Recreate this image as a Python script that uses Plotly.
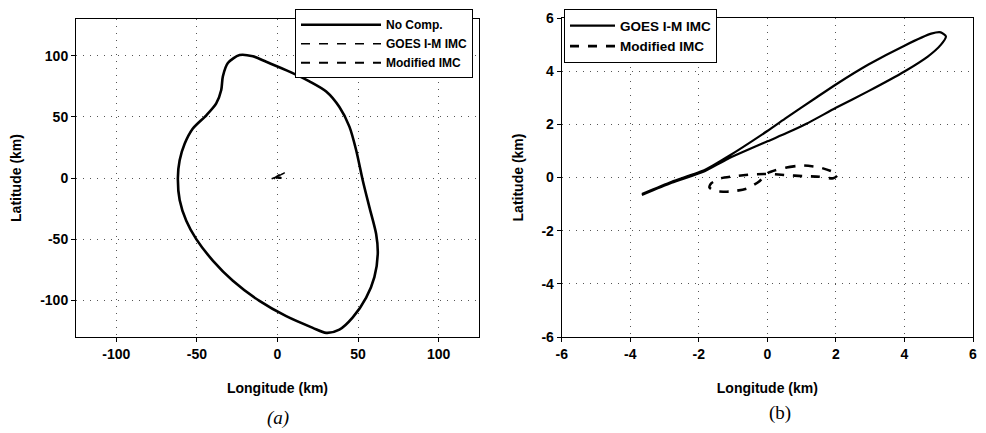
import plotly.graph_objects as go

# ---- data (km) ----
nocomp_lon = [-23.5, -30.8, -33.9, -34.9, -38.0, -44.0, -52.5, -57.6, -60.7, -61.8, -60.7, -56.6,
              -50.4, -40.0, -27.7, -11.2, 5.4, 21.9, 30.2, 38.4, 46.7, 55.0, 60.1, 62.2, 61.2,
              57.0, 52.9, 48.8, 44.6, 38.4, 30.2, 19.8, 7.4, -7.0, -15.3, -23.5]
nocomp_lat = [100.5, 94.0, 83.0, 72.0, 61.0, 51.5, 40.5, 28.0, 14.5, 0.0, -18.0, -35.0,
              -50.0, -67.7, -84.0, -100.5, -113.0, -122.5, -126.6, -124.0, -114.0, -97.8, -81.0, -62.0, -45.8,
              -23.8, -2.0, 22.7, 42.0, 58.0, 70.7, 79.0, 87.0, 95.0, 99.5, 100.5]

goes_lon = [-3.66, -2.79, -1.83, -1.16, 0.00, 0.56, 1.42, 2.00, 2.95, 4.00, 4.78, 5.06, 5.21,
            5.06, 4.68, 4.00, 2.95, 2.00, 1.14, 0.56, 0.00, -1.16, -1.83, -2.79, -3.66]
goes_lat = [-0.62, -0.16, 0.28, 0.78, 1.75, 2.25, 3.00, 3.50, 4.25, 4.96, 5.41, 5.46, 5.31,
            4.99, 4.55, 3.99, 3.25, 2.62, 2.02, 1.67, 1.36, 0.70, 0.24, -0.20, -0.66]

mod_lon = [0.00, 0.56, 1.04, 1.52, 1.90, 2.05, 1.92, 1.52, 1.04, 0.56, 0.08, -0.40, -0.88, -1.36,
           -1.64, -1.69, -1.55, -1.07, -0.59, -0.25, 0.00]
mod_lat = [0.16, 0.38, 0.45, 0.38, 0.22, 0.09, -0.03, 0.03, 0.05, 0.09, 0.13, 0.12, 0.06, -0.03,
           -0.22, -0.37, -0.50, -0.53, -0.41, -0.16, 0.16]

left_ticks = [-100, -50, 0, 50, 100]
right_ticks = [-6, -4, -2, 0, 2, 4, 6]

FONT = "Liberation Sans"
# the page body adds an 8px margin, so the figure is sized to fill the rest of the window
W, H, OFF = 978, 425, 8


def px_x(X):
    return (X - OFF) / W


def px_y(Y):
    return 1 - (Y - OFF) / H


fig = go.Figure()

# left panel
fig.add_trace(go.Scatter(x=nocomp_lon, y=nocomp_lat, mode="lines", name="<b>No Comp.</b>",
                         line=dict(color="black", width=2.6, shape="spline", smoothing=0.8),
                         xaxis="x", yaxis="y", legend="legend"))
fig.add_trace(go.Scatter(x=goes_lon, y=goes_lat, mode="lines", name="<b>GOES I-M IMC</b>",
                         line=dict(color="black", width=1.5, dash="dash", shape="spline", smoothing=0.6),
                         xaxis="x", yaxis="y", legend="legend"))
fig.add_trace(go.Scatter(x=mod_lon, y=mod_lat, mode="lines", name="<b>Modified IMC</b>",
                         line=dict(color="black", width=2, dash="dash", shape="spline", smoothing=0.6),
                         xaxis="x", yaxis="y", legend="legend"))
# right panel
fig.add_trace(go.Scatter(x=goes_lon, y=goes_lat, mode="lines", name="<b>GOES I-M IMC</b>",
                         line=dict(color="black", width=2.2, shape="spline", smoothing=0.6),
                         xaxis="x2", yaxis="y2", legend="legend2"))
fig.add_trace(go.Scatter(x=mod_lon, y=mod_lat, mode="lines", name="<b>Modified IMC</b>",
                         line=dict(color="black", width=2.6, dash="dash", shape="spline", smoothing=0.6),
                         xaxis="x2", yaxis="y2", legend="legend2"))

tickfont = dict(family=FONT, size=14, color="black")
titlefont = dict(family=FONT, size=14, color="black")
common = dict(showline=True, linecolor="black", linewidth=1, mirror=True,
              showgrid=True, gridcolor="#555", griddash="1px,6px", gridwidth=1,
              zeroline=False, tickfont=tickfont, ticks="outside", ticklen=4,
              tickcolor="black", automargin=False, ticklabeloverflow="allow")

fig.update_layout(
    width=W, height=H,
    margin=dict(l=0, r=0, t=0, b=0, autoexpand=False),
    paper_bgcolor="white", plot_bgcolor="white",
    xaxis=dict(domain=[px_x(76), px_x(479)], range=[-125, 125], tickvals=left_ticks,
               ticktext=[f"<b>{v}</b>" for v in left_ticks], anchor="y",
               title=dict(text="<b>Longitude (km)</b>", font=titlefont, standoff=22), **common),
    yaxis=dict(domain=[px_y(337), px_y(19)], range=[-130, 130], tickvals=left_ticks,
               ticktext=[f"<b>{v}</b>" for v in left_ticks], anchor="x",
               title=dict(text="<b>Latitude (km)</b>", font=titlefont, standoff=16), **common),
    xaxis2=dict(domain=[px_x(561.7), px_x(973)], range=[-6, 6], tickvals=right_ticks,
                ticktext=[f"<b>{v}</b>" for v in right_ticks], anchor="y2",
                title=dict(text="<b>Longitude (km)</b>", font=titlefont, standoff=22), **common),
    yaxis2=dict(domain=[px_y(337), px_y(18)], range=[-6, 6], tickvals=right_ticks,
                ticktext=[f"<b>{v}</b>" for v in right_ticks], anchor="x2",
                title=dict(text="<b>Latitude (km)</b>", font=titlefont, standoff=14), **common),
    legend=dict(x=px_x(295), y=0.997, xanchor="left", yanchor="top", bgcolor="white",
                bordercolor="black", borderwidth=1, font=dict(family=FONT, size=12, color="black"),
                tracegroupgap=0, itemwidth=80),
    legend2=dict(x=px_x(564), y=0.997, xanchor="left", yanchor="top", bgcolor="white",
                 bordercolor="black", borderwidth=1, font=dict(family=FONT, size=13.5, color="black"),
                 tracegroupgap=0, itemwidth=45),
    annotations=[
        dict(text="<i>(a)</i>", x=px_x(278), y=px_y(418), xref="paper", yref="paper", showarrow=False,
             font=dict(family="Liberation Serif", size=19, color="black"), xanchor="center", yanchor="middle"),
        dict(text="(b)", x=px_x(780), y=px_y(413), xref="paper", yref="paper", showarrow=False,
             font=dict(family="Liberation Serif", size=19, color="black"), xanchor="center", yanchor="middle"),
    ],
)

fig.write_html("out.html")
